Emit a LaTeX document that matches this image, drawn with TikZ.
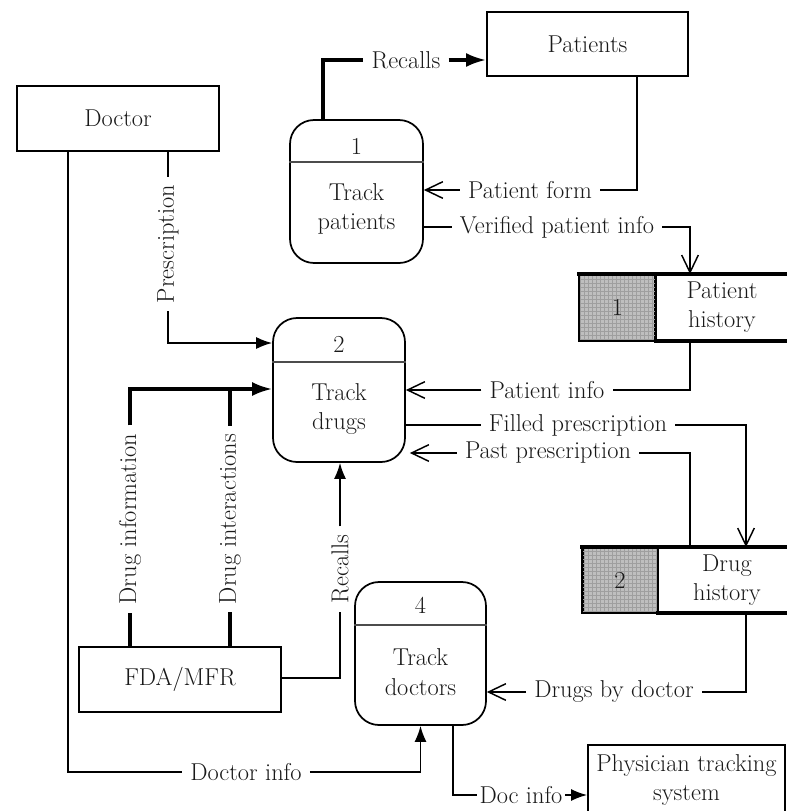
\documentclass[tikz,border=0pt]{standalone}
\usetikzlibrary{arrows.meta,patterns}
\begin{document}
\begin{tikzpicture}[x=0.75pt,y=-0.75pt,
  every node/.style={text=black!90, font=\fontsize{18.3}{22}\selectfont},
  ent/.style={draw, line width=1.4pt, inner sep=0pt, align=center},
  proc/.style={draw, line width=1.3pt, rounded corners=18pt, inner sep=0pt},
  divider/.style={line width=0.8pt, black!70},
  cell/.style={draw, line width=1.4pt, inner sep=0pt, fill=gray!50},
  rail/.style={line width=2.4pt, line cap=rect},
  flow/.style={line width=1.1pt},
  heavy/.style={line width=2.4pt},
  fa/.style={-{Latex[length=12pt,width=9pt]}},
  fabig/.style={-{Latex[length=15pt,width=10.5pt]}},
  oa/.style={-{Straight Barb[length=13pt,width=12.5pt,line width=1.1pt]}},
  lbl/.style={inner xsep=6pt, inner ysep=0pt},
  vlbl/.style={inner xsep=6pt, inner ysep=0pt, rotate=90},
]
\useasboundingbox (0,0) rectangle (787,811);
\clip (0,0) rectangle (787,811);

% external entities
\node[ent, minimum width=151.5pt, minimum height=48.75pt] (doctor) at (118,118.5) {Doctor};
\node[ent, minimum width=150.75pt, minimum height=48pt] (patients) at (587.5,44) {Patients};
\node[ent, minimum width=151.5pt, minimum height=48.75pt] (fda) at (180,679.5) {FDA/MFR};
\node[ent, minimum width=147.75pt, minimum height=52.5pt] (phys) at (686.5,780) {Physician tracking\\system};

% processes
\node[proc, minimum width=99.75pt, minimum height=107.25pt] (p1) at (356.5,191.5) {};
\draw[divider] (p1.west |- 0,162) -- (p1.east |- 0,162);
\node (p1num) at (356.5,146) {1};
\node[align=center] (p1txt) at (356.5,209) {Track\\patients};

\node[proc, minimum width=99pt, minimum height=108pt] (p2) at (339,390) {};
\draw[divider] (p2.west |- 0,362) -- (p2.east |- 0,362);
\node (p2num) at (339,344) {2};
\node[align=center] (p2txt) at (339,409) {Track\\drugs};

\node[proc, minimum width=98.25pt, minimum height=107.25pt] (p4) at (420.5,653.5) {};
\draw[divider] (p4.west |- 0,625) -- (p4.east |- 0,625);
\node (p4num) at (420.5,605) {4};
\node[align=center] (p4txt) at (420.5,672) {Track\\doctors};

% data stores
\node[cell, minimum width=56.25pt, minimum height=48.75pt] (s1) at (617.5,307.5) {};
\fill[pattern=grid, pattern color=gray!75] (s1.south west) rectangle (s1.north east);
\draw[line width=1.4pt] (s1.south west) rectangle (s1.north east);
\node (s1num) at (s1.center) {1};
\draw[rail] (s1.north west) -- ++(230,0);
\draw[rail] (s1.south east) -- ++(150,0);
\node[align=center] (s1txt) at (722,307) {Patient\\history};

\node[cell, minimum width=55.5pt, minimum height=48pt] (s2) at (620,580) {};
\fill[pattern=grid, pattern color=gray!75] (s2.south west) rectangle (s2.north east);
\draw[line width=1.4pt] (s2.south west) rectangle (s2.north east);
\node (s2num) at (s2.center) {2};
\draw[rail] (s2.north west) -- ++(230,0);
\draw[rail] (s2.south east) -- ++(150,0);
\node[align=center] (s2txt) at (727,580) {Drug\\history};

% bend points of the flows
\coordinate (c-rec) at (323,60);
\coordinate (c-pf) at (637,190);
\coordinate (c-ph) at (690,227);
\coordinate (c-fp) at (746,425);
\coordinate (c-di) at (68,772);
\coordinate (c-doc) at (453,795);
\coordinate (c-pr) at (168,343);
\coordinate (c-dinf) at (130,389);
\coordinate (c-dint) at (230,389);
\coordinate (c-rec2) at (340,678);

% flow labels
\node[lbl] (lRec1) at (406,60) {Recalls};
\node[lbl] (lPF) at (530,190) {Patient form};
\node[lbl] (lVPI) at (557,227) {Verified patient info};
\node[lbl] (lPI) at (547,390) {Patient info};
\node[lbl] (lFP) at (578,425) {Filled prescription};
\node[lbl] (lPP) at (548,453) {Past prescription};
\node[lbl] (lDBD) at (614,692) {Drugs by doctor};
\node[lbl] (lDI) at (246,772) {Doctor info};
\node[lbl, inner xsep=2pt] (lDoc) at (521,795) {Doc info};
\node[vlbl] (lPr) at (168,244) {Prescription};
\node[vlbl] (lDInf) at (130,519) {Drug information};
\node[vlbl] (lDInt) at (230,519) {Drug interactions};
\node[vlbl] (lRec2) at (340,569) {Recalls};

% flows
\draw[heavy] (p1.north -| c-rec) |- (lRec1.west);
\draw[heavy, fabig] (lRec1.east) -- (patients.west |- lRec1.east);

\draw[flow] (patients.south -| c-pf) |- (lPF.east);
\draw[flow, oa] (lPF.west) -- (p1.east |- lPF.west);

\draw[flow] (p1.east |- lVPI.west) -- (lVPI.west);
\draw[flow, oa] (lVPI.east) -| (s1.north -| c-ph);

\draw[flow] (s1.south -| c-ph) |- (lPI.east);
\draw[flow, oa] (lPI.west) -- (p2.east |- lPI.west);

\draw[flow] (p2.east |- lFP.west) -- (lFP.west);
\draw[flow, oa] (lFP.east) -| (s2.north -| c-fp);

\draw[flow] (s2.north -| c-ph) |- (lPP.east);
\draw[flow, oa, shorten >=3pt] (lPP.west) -- (p2.east |- lPP.west);

\draw[flow] (s2.south -| c-fp) |- (lDBD.east);
\draw[flow, oa] (lDBD.west) -- (p4.east |- lDBD.west);

\draw[flow] (doctor.south -| c-di) |- (lDI.west);
\draw[flow, fa] (lDI.east) -| (p4.south);

\draw[flow] (p4.south -| c-doc) |- (lDoc.west);
\draw[flow, fa] (lDoc.east) -- (phys.west |- lDoc.east);

\draw[flow] (doctor.south -| c-pr) -- (lPr.east);
\draw[flow, fa] (lPr.west) |- (p2.west |- c-pr);

\draw[heavy] (fda.north -| c-dinf) -- (lDInf.west);
\draw[heavy, fabig] (lDInf.east) |- (p2.west |- c-dinf);

\draw[heavy] (fda.north -| c-dint) -- (lDInt.west);
\draw[heavy] (lDInt.east) -- (c-dint);

\draw[flow] (fda.east |- c-rec2) -| (lRec2.west);
\draw[flow, fa] (lRec2.east) -- (p2.south -| c-rec2);
\end{tikzpicture}
\end{document}
